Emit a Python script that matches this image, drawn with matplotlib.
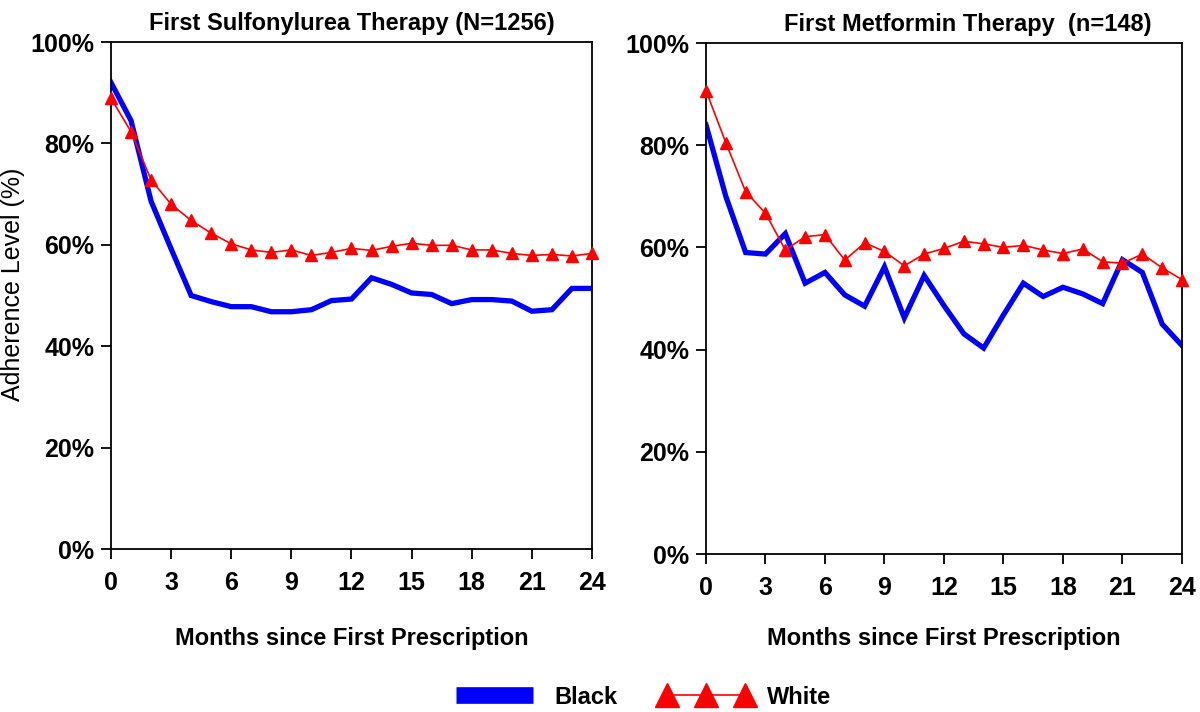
import matplotlib.pyplot as plt
from matplotlib.lines import Line2D
from matplotlib.ticker import PercentFormatter

plt.rcParams['font.family'] = ['Liberation Sans', 'DejaVu Sans']

months = list(range(25))

# First Sulfonylurea Therapy
su_black = [92.0, 84.5, 68.6, 59.2, 50.0, 48.8, 47.8, 47.8, 46.8, 46.8, 47.2, 49.0, 49.3,
            53.5, 52.2, 50.5, 50.2, 48.4, 49.2, 49.2, 48.9, 46.9, 47.2, 51.4, 51.4]
su_white = [88.9, 82.3, 72.8, 68.0, 64.8, 62.3, 60.2, 59.0, 58.5, 59.0, 57.9, 58.5, 59.3,
            58.9, 59.7, 60.3, 59.9, 59.9, 59.0, 59.0, 58.3, 57.9, 58.1, 57.8, 58.3]

# First Metformin Therapy
mf_black = [84.0, 70.0, 59.0, 58.7, 62.7, 53.0, 55.1, 50.7, 48.5, 56.2, 46.2, 54.5, 48.6,
            43.1, 40.3, 46.8, 53.0, 50.4, 52.2, 50.9, 49.0, 57.6, 55.1, 45.0, 40.8]
mf_white = [90.7, 80.5, 70.9, 66.7, 59.5, 62.1, 62.5, 57.5, 60.9, 59.2, 56.4, 58.7, 59.8,
            61.2, 60.7, 60.0, 60.4, 59.5, 58.8, 59.7, 57.2, 56.9, 58.7, 56.0, 53.7]

titles = ['First Sulfonylurea Therapy (N=1256)', 'First Metformin Therapy  (n=148)']
xticks = [0, 3, 6, 9, 12, 15, 18, 21, 24]
yticks = [0, 20, 40, 60, 80, 100]

fig = plt.figure(figsize=(12, 7.12), dpi=100)
ax1 = fig.add_axes([0.0925, 0.2289, 0.4008, 0.7121])
ax2 = fig.add_axes([0.5883, 0.2219, 0.3967, 0.7177])

panels = [(ax1, su_black, su_white, titles[0], 23), (ax2, mf_black, mf_white, titles[1], 19)]
for ax, black, white, title, lpad in panels:
    ax.plot(months, black, color='#0000ff', lw=3.8, solid_joinstyle='miter', zorder=2)
    ax.plot(months, white, color='#ff0000', lw=1.2, marker='^', ms=9, zorder=3, clip_on=False)
    ax.set_xlim(0, 24)
    ax.set_ylim(0, 100)
    ax.set_xticks(xticks)
    ax.set_yticks(yticks)
    ax.yaxis.set_major_formatter(PercentFormatter(decimals=0))
    ax.tick_params(direction='out', length=7, width=1.3, labelsize=18)
    ax.tick_params(axis='y', pad=5)
    ax.tick_params(axis='x', pad=9)
    for lab in ax.get_xticklabels() + ax.get_yticklabels():
        lab.set_fontweight('bold')
    for sp in ax.spines.values():
        sp.set_linewidth(1.3)
    ax.set_xlabel('Months since First Prescription', fontsize=17, fontweight='bold', labelpad=lpad)
    ax.set_title(title, fontsize=17, fontweight='bold', pad=9)

ax1.set_ylabel('Adherence Level (%)', fontsize=18)
ax1.yaxis.set_label_coords(-0.179, 0.523)
ax2.title.set_position((0.55, 1.0))

handles = [Line2D([], [], color='#0000ff', lw=12, solid_capstyle='butt'),
           Line2D([], [], color='#ff0000', lw=1.2, marker='^', ms=17)]
fig.legend(handles, ['Black', 'White'], loc='center', bbox_to_anchor=(0.533, 0.021),
           ncol=2, frameon=False, numpoints=3, handlelength=3.9, handletextpad=0.6,
           columnspacing=1.8, prop={'size': 17, 'weight': 'bold'})

fig.savefig('out.png', dpi=100)
